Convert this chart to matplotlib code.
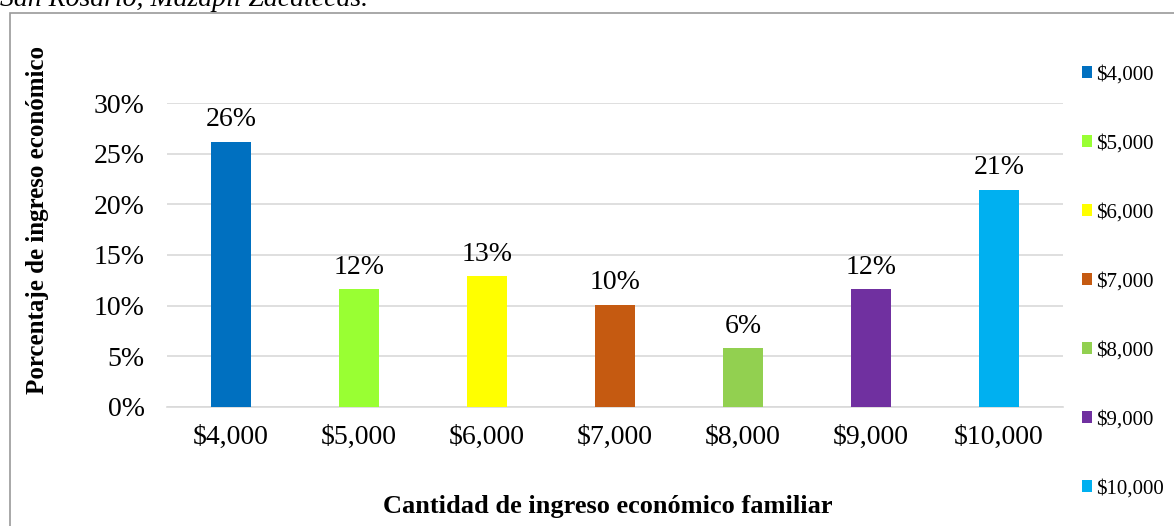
import matplotlib.pyplot as plt
from matplotlib.patches import Rectangle

plt.rcParams['font.family'] = ['Liberation Serif', 'DejaVu Serif']

# datos
categorias = ['$4,000', '$5,000', '$6,000', '$7,000', '$8,000', '$9,000', '$10,000']
porcentajes = [26.2, 11.6, 12.9, 10.1, 5.8, 11.6, 21.4]
etiquetas = ['26%', '12%', '13%', '10%', '6%', '12%', '21%']
colores = ['#0070C0', '#99FF33', '#FFFF00', '#C55A11', '#92D050', '#7030A0', '#00B0F0']
ticks_y = [0, 5, 10, 15, 20, 25, 30]

fig = plt.figure(figsize=(11.74, 5.26), dpi=100)

# texto cortado arriba (como en la imagen original)
fig.text(0.0, 1 - 6 / 526, 'San Rosario, Mazapil Zacatecas.', style='italic',
         fontsize=20, va='baseline', ha='left')

# marco del área del gráfico
fig.patches.append(Rectangle((10 / 1174, -0.1), 1.2, 1.1 - 13 / 526,
                             transform=fig.transFigure, fill=False,
                             edgecolor='#9a9a9a', linewidth=1.2))

ax = fig.add_axes([167 / 1174, 1 - 407 / 526, 896 / 1174, 304 / 526])

x = range(len(categorias))
barras = []
for i in x:
    b = ax.bar(i, porcentajes[i], width=0.31, color=colores[i], label=categorias[i], zorder=3)
    barras.append(b)
    ax.annotate(etiquetas[i], (i, porcentajes[i]), xytext=(0, 7), textcoords='offset points',
                ha='center', va='bottom', fontsize=20)

ax.set_xlim(-0.5, len(categorias) - 0.5)
ax.set_ylim(0, 30)
ax.set_yticks(ticks_y)
ax.set_yticklabels([f'{t}%' for t in ticks_y], fontsize=20)
ax.set_xticks(list(x))
ax.set_xticklabels(categorias, fontsize=20)
ax.tick_params(axis='both', length=0)
ax.tick_params(axis='y', pad=16)
ax.tick_params(axis='x', pad=13)
ax.grid(axis='y', color='#d9d9d9', linewidth=1.2, zorder=0)
for s in ['top', 'right', 'left']:
    ax.spines[s].set_visible(False)
ax.spines['bottom'].set_color('#d9d9d9')
ax.spines['bottom'].set_linewidth(1.2)

fig.text(38 / 1174, 1 - 220 / 526, 'Porcentaje de ingreso económico', rotation=90,
         ha='center', va='center', fontsize=18, fontweight='bold')
fig.text(608 / 1174, 1 - 507 / 526, 'Cantidad de ingreso económico familiar',
         ha='center', va='center', fontsize=19, fontweight='bold')

fig.legend(handles=barras, labels=categorias, loc='upper left',
           bbox_to_anchor=(1063 / 1174, 1 - 47 / 526), frameon=False,
           fontsize=15, handlelength=0.5, handleheight=0.5, handletextpad=0.2,
           labelspacing=2.4)

fig.savefig('out.png', dpi=100)
